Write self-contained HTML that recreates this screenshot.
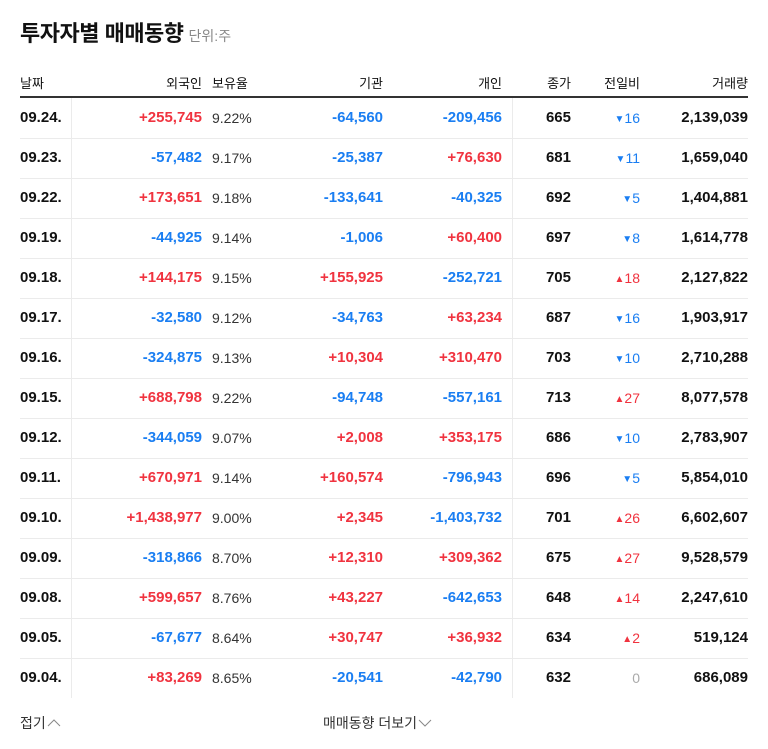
<!DOCTYPE html>
<html><head><meta charset="utf-8">
<style>
body{margin:0;background:#fff;width:768px;height:749px;overflow:hidden;font-family:"Liberation Sans","Noto Sans CJK KR",sans-serif;color:#111}
#title{position:absolute;left:20px;top:16px;font-size:22px;font-weight:bold;letter-spacing:-0.5px}
#unit{font-size:14px;font-weight:normal;color:#888;margin-left:5px;letter-spacing:0}
.c{position:absolute;white-space:nowrap}
.hd{font-size:13px;top:73px}
.v{font-size:15px;font-weight:bold}
.r{color:#f0333f}.b{color:#1a7ef2}
.pct{font-weight:normal;color:#333;font-size:14px}
#hline{position:absolute;left:20px;width:728px;top:96px;height:2px;background:#333}
.rl{position:absolute;left:20px;width:728px;height:1px;background:#ebebeb}
.vl{position:absolute;top:98px;height:600px;width:1px;background:#ebebeb}
.ft{position:absolute;top:713px;font-size:14px;color:#333}
</style></head><body>
<div id="title">투자자별 매매동향<span id="unit">단위:주</span></div>
<div id="hline"></div>
<div class="vl" style="left:71px"></div>
<div class="vl" style="left:512px"></div>
<div id="tbl"></div>
<div class="ft" style="left:20px">접기<svg width="14" height="10" viewBox="0 0 14 10" style="margin-left:1px"><polyline points="1,8 7,2 13,8" fill="none" stroke="#888" stroke-width="1"/></svg></div>
<div class="ft" style="left:323px">매매동향 더보기<svg width="14" height="10" viewBox="0 0 14 10" style="margin-left:1px"><polyline points="1,2 7,8 13,2" fill="none" stroke="#888" stroke-width="1"/></svg></div>
<script>
const dates=["09.24.","09.23.","09.22.","09.19.","09.18.","09.17.","09.16.","09.15.","09.12.","09.11.","09.10.","09.09.","09.08.","09.05.","09.04."];
const foreign=["+255,745","-57,482","+173,651","-44,925","+144,175","-32,580","-324,875","+688,798","-344,059","+670,971","+1,438,977","-318,866","+599,657","-67,677","+83,269"];
const holding=["9.22%","9.17%","9.18%","9.14%","9.15%","9.12%","9.13%","9.22%","9.07%","9.14%","9.00%","8.70%","8.76%","8.64%","8.65%"];
const inst=["-64,560","-25,387","-133,641","-1,006","+155,925","-34,763","+10,304","-94,748","+2,008","+160,574","+2,345","+12,310","+43,227","+30,747","-20,541"];
const indiv=["-209,456","+76,630","-40,325","+60,400","-252,721","+63,234","+310,470","-557,161","+353,175","-796,943","-1,403,732","+309,362","-642,653","+36,932","-42,790"];
const close=["665","681","692","697","705","687","703","713","686","696","701","675","648","634","632"];
const change=[-16,-11,-5,-8,18,-16,-10,27,-10,-5,26,27,14,2,0];
const volume=["2,139,039","1,659,040","1,404,881","1,614,778","2,127,822","1,903,917","2,710,288","8,077,578","2,783,907","5,854,010","6,602,607","9,528,579","2,247,610","519,124","686,089"];
const headers=["날짜","외국인","보유율","기관","개인","종가","전일비","거래량"];
const cols=[{l:20},{r:566},{l:212},{r:385},{r:266},{r:197},{r:128},{r:20}];
const tbl=document.getElementById('tbl');
function cell(text,cls,col,top,name){
  const d=document.createElement('div');
  d.className='c '+cls;
  if(col.l!==undefined)d.style.left=col.l+'px';else d.style.right=col.r+'px';
  d.style.top=top+'px';
  d.textContent=text;
  
  
  tbl.appendChild(d);return d;
}
headers.forEach((h,i)=>cell(h,'hd',cols[i],73,'header-'+i));
function sc(s){return s[0]==='+'?'r':'b';}
dates.forEach((dt,i)=>{
  const top=109+i*40;
  cell(dt,'v',cols[0],top,'date-cell');
  cell(foreign[i],'v '+sc(foreign[i]),cols[1],top,'foreign-cell');
  cell(holding[i],'v pct',cols[2],top+1,'holding-cell');
  cell(inst[i],'v '+sc(inst[i]),cols[3],top,'institution-cell');
  cell(indiv[i],'v '+sc(indiv[i]),cols[4],top,'individual-cell');
  cell(close[i],'v',cols[5],top,'close-cell');
  const c=change[i];
  const e=cell(c===0?'0':String(Math.abs(c)),'',cols[6],top+1,'change-cell');
  e.style.fontSize='14px';
  e.style.color=c===0?'#aaa':(c>0?'#f0333f':'#1a7ef2');
  if(c!==0){e.innerHTML='<span style="font-size:10px;vertical-align:1px">'+(c>0?'▲':'▼')+'</span>'+Math.abs(c);}
  cell(volume[i],'v',cols[7],top,'volume-cell');
  if(i<dates.length-1){
    const l=document.createElement('div');l.className='rl';l.style.top=(138+i*40)+'px';
    
    
    tbl.appendChild(l);
  }
});
</script>
</body></html>
